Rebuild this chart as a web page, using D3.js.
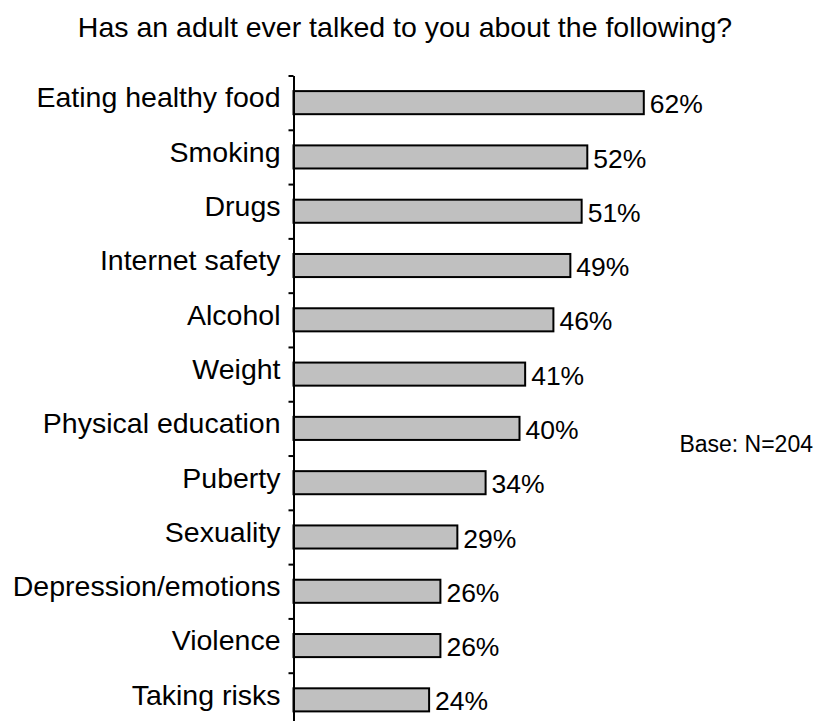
<!DOCTYPE html>
<html>
<head>
<meta charset="utf-8">
<script src="https://cdn.jsdelivr.net/npm/d3@7/dist/d3.min.js"></script>
<style>
  body { margin: 0; background: #fff; }
  svg { display: block; font-family: "Liberation Sans", Arial, Helvetica, sans-serif; }
</style>
</head>
<body>
<svg width="817" height="721"></svg>
<script>
(function(d3) {
  'use strict';

  const topics = [
    'Eating healthy food', 'Smoking', 'Drugs', 'Internet safety', 'Alcohol',
    'Weight', 'Physical education', 'Puberty', 'Sexuality',
    'Depression/emotions', 'Violence', 'Taking risks',
  ];
  const percents = [62, 52, 51, 49, 46, 41, 40, 34, 29, 26, 26, 24];
  const titleText = 'Has an adult ever talked to you about the following?';
  const baseText = 'Base: N=204';

  const data = topics.map(function(t, i) {
    return {topic: t, value: percents[i]};
  });

  const svg = d3.select('svg');
  const axisX = 293.5;

  const xScale = d3.scaleLinear().domain([0, 100]).range([axisX, axisX + 565]);
  const yScale = d3.scaleBand()
      .domain(topics)
      .range([75.5, 727])
      .paddingInner(0.575)
      .paddingOuter(0.2875);

  // tick marks sit between the bars, so use an index scale over the same range
  const yEdge = d3.scaleLinear().domain([0, topics.length]).range(yScale.range());

  svg.append('text')
      .attr('x', 405)
      .attr('y', 37)
      .attr('text-anchor', 'middle')
      .attr('font-size', 28.5)
      .attr('fill', '#000')
      .text(titleText);

  const bars = svg.append('g');
  bars.selectAll('rect').data(data).enter().append('rect')
      .attr('x', xScale(0))
      .attr('y', function(d) { return yScale(d.topic); })
      .attr('width', function(d) { return xScale(d.value) - xScale(0); })
      .attr('height', yScale.bandwidth())
      .attr('fill', '#c0c0c0')
      .attr('stroke', '#000')
      .attr('stroke-width', 2);

  bars.selectAll('text.value').data(data).enter().append('text')
      .attr('class', 'value')
      .attr('x', function(d) { return xScale(d.value) + 6; })
      .attr('y', function(d) { return yScale(d.topic) + yScale.bandwidth() / 2; })
      .attr('dy', '0.4em')
      .attr('font-size', 26.5)
      .text(function(d) { return d.value + '%'; });

  svg.append('g').selectAll('text').data(data).enter().append('text')
      .attr('x', axisX - 13)
      .attr('y', function(d) { return yScale(d.topic) + yScale.bandwidth() / 2; })
      .attr('dy', '0.17em')
      .attr('text-anchor', 'end')
      .attr('font-size', 28.5)
      .text(function(d) { return d.topic; });

  const yAxis = d3.axisLeft(yEdge)
      .tickValues(d3.range(topics.length + 1))
      .tickFormat('')
      .tickSize(5)
      .tickSizeOuter(0);

  const axisG = svg.append('g')
      .attr('transform', `translate(${axisX},0)`)
      .call(yAxis);
  axisG.selectAll('path, line').attr('stroke', '#000').attr('stroke-width', 2);

  svg.append('text')
      .attr('x', 813)
      .attr('y', 451.5)
      .attr('text-anchor', 'end')
      .attr('font-size', 23)
      .text(baseText);
}(d3));
</script>
</body>
</html>
